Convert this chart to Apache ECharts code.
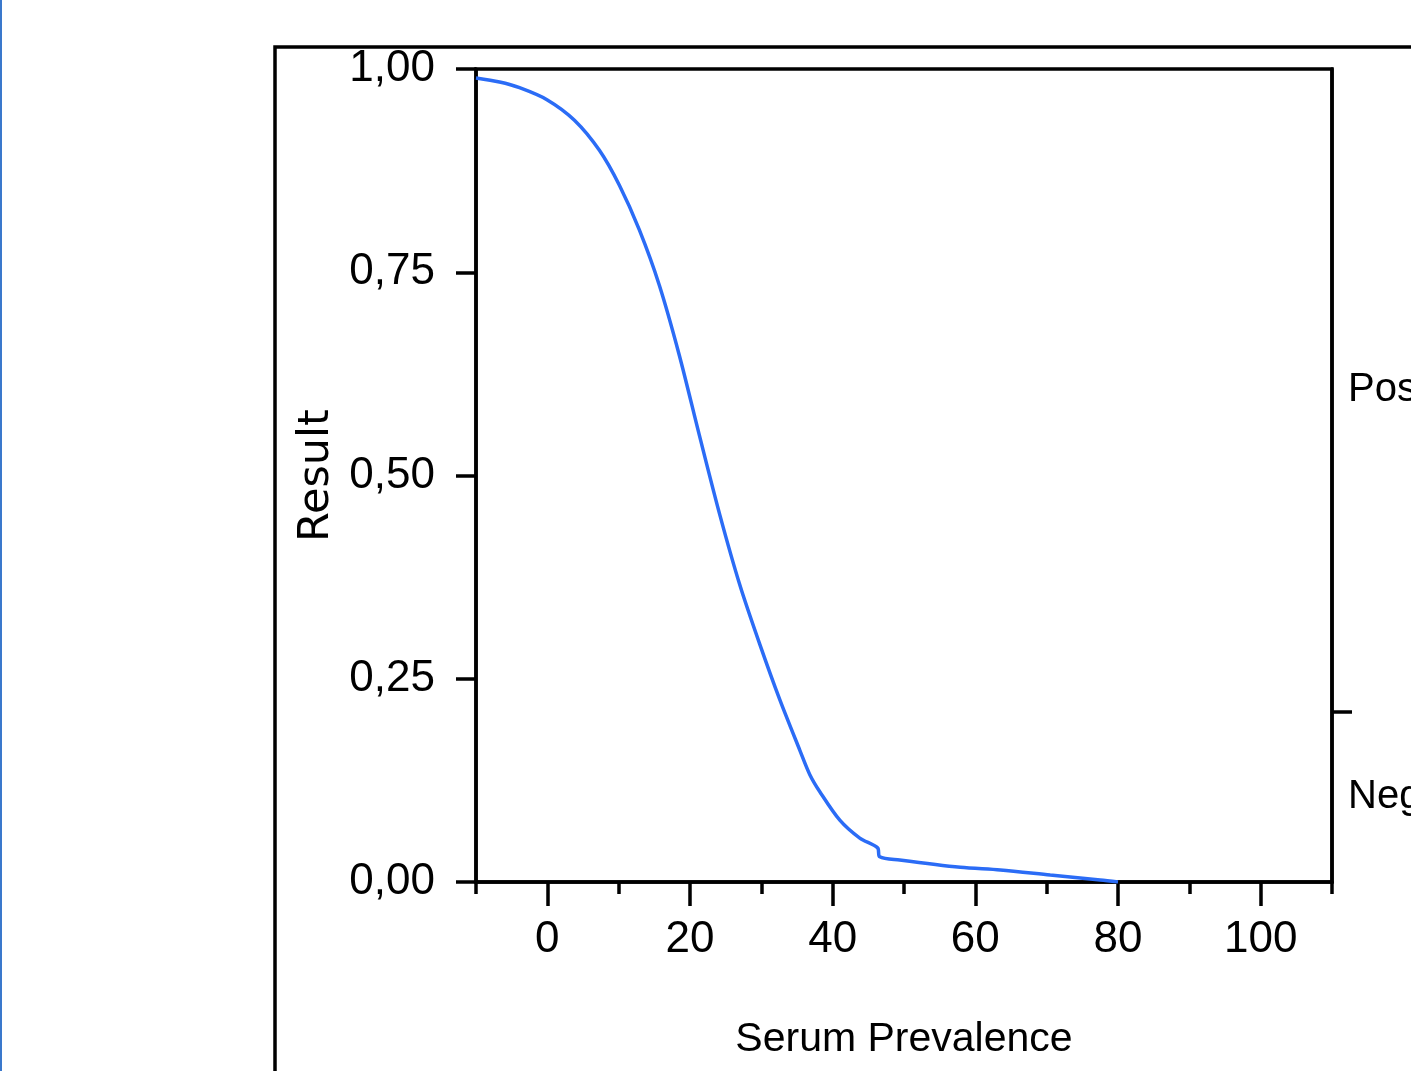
<!DOCTYPE html>
<html>
<head>
<meta charset="utf-8">
<script src="https://cdn.jsdelivr.net/npm/echarts@6/dist/echarts.min.js"></script>
<style>
  html, body { margin: 0; padding: 0; background: #fff; }
  #chart { width: 1411px; height: 1071px; }
</style>
</head>
<body>
<div id="chart"></div>
<script>
  // curve: serum prevalence -> result
  const prevalence = [-10, -6.7, -3.9, 0, 3.8, 7.3, 10.1, 12.9, 15.7, 18.5, 21.3, 24.2, 27, 29.8, 32.6, 35.4, 36.8, 38.2, 41, 43.8, 46.3, 46.6, 49.4, 57.9, 63.5, 70.5, 77.5, 80];
  const result = [0.989, 0.984, 0.977, 0.962, 0.937, 0.900, 0.857, 0.802, 0.734, 0.648, 0.550, 0.451, 0.365, 0.292, 0.224, 0.162, 0.132, 0.111, 0.076, 0.054, 0.042, 0.031, 0.027, 0.018, 0.0148, 0.0086, 0.0025, 0];
  const majorTicks = [0, 20, 40, 60, 80, 100];
  const cutoff = 0.21;
  const classLabels = [{ value: 0.105, text: 'Negative' }, { value: 0.605, text: 'Positive' }];

  const sans = '"Liberation Sans", Arial, sans-serif';
  const black = '#000';
  const lw = 3.5;

  const chart = echarts.init(document.getElementById('chart'));
  chart.setOption({
    animation: false,
    grid: { left: 476, right: 79, top: 69, bottom: 189, outerBoundsMode: 'none', containLabel: false,
      show: true, borderColor: black, borderWidth: lw },
    xAxis: [{
      type: 'value', min: -10, max: 110, interval: 10,
      splitLine: { show: false },
      axisLine: { show: true, onZero: false, lineStyle: { color: black, width: lw } },
      axisTick: { show: true, customValues: majorTicks, length: 24, lineStyle: { color: black, width: lw } },
      axisLabel: { customValues: majorTicks, color: black, fontFamily: sans, fontSize: 44, margin: 36 },
      name: 'Serum Prevalence', nameLocation: 'middle', nameGap: 137,
      nameTextStyle: { color: black, fontFamily: sans, fontSize: 41 }
    }, {
      type: 'value', min: -10, max: 110, interval: 10, position: 'bottom',
      splitLine: { show: false },
      axisLine: { show: false, onZero: false },
      axisTick: { show: true, length: 12, lineStyle: { color: black, width: lw } },
      axisLabel: { show: false }
    }],
    yAxis: [{
      type: 'value', min: 0, max: 1, interval: 0.25,
      splitLine: { show: false },
      axisLine: { show: true, onZero: false, lineStyle: { color: black, width: lw } },
      axisTick: { show: true, length: 20, lineStyle: { color: black, width: lw } },
      axisLabel: { color: black, fontFamily: sans, fontSize: 44, margin: 41,
        formatter: (v) => v.toFixed(2).replace('.', ',') },
      name: 'Result', nameLocation: 'middle', nameGap: 138, nameRotate: 90,
      nameTextStyle: { color: black, fontFamily: '"DejaVu Sans", sans-serif', fontSize: 43 }
    }, {
      type: 'value', min: 0, max: 1, position: 'right',
      splitLine: { show: false },
      axisLine: { show: true, onZero: false, lineStyle: { color: black, width: lw } },
      axisTick: { show: true, customValues: [cutoff], length: 20, lineStyle: { color: black, width: lw } },
      axisLabel: { customValues: classLabels.map((c) => c.value), color: black, fontFamily: sans, fontSize: 40, margin: 16,
        formatter: (v) => (classLabels.find((c) => Math.abs(c.value - v) < 1e-6) || {}).text || '' }
    }],
    graphic: [
      { type: 'rect', z: -1, shape: { x: 275, y: 47, width: 1300, height: 1200 },
        style: { fill: 'none', stroke: black, lineWidth: lw } },
      { type: 'rect', shape: { x: 0, y: 0, width: 2, height: 1071 }, style: { fill: '#3a78cc' } }
    ],
    series: [{
      type: 'line', xAxisIndex: 0, yAxisIndex: 0,
      data: prevalence.map((x, i) => [x, result[i]]),
      showSymbol: false, smooth: 0.3,
      lineStyle: { color: '#2b6cf6', width: 3.5 }
    }]
  });
</script>
</body>
</html>
